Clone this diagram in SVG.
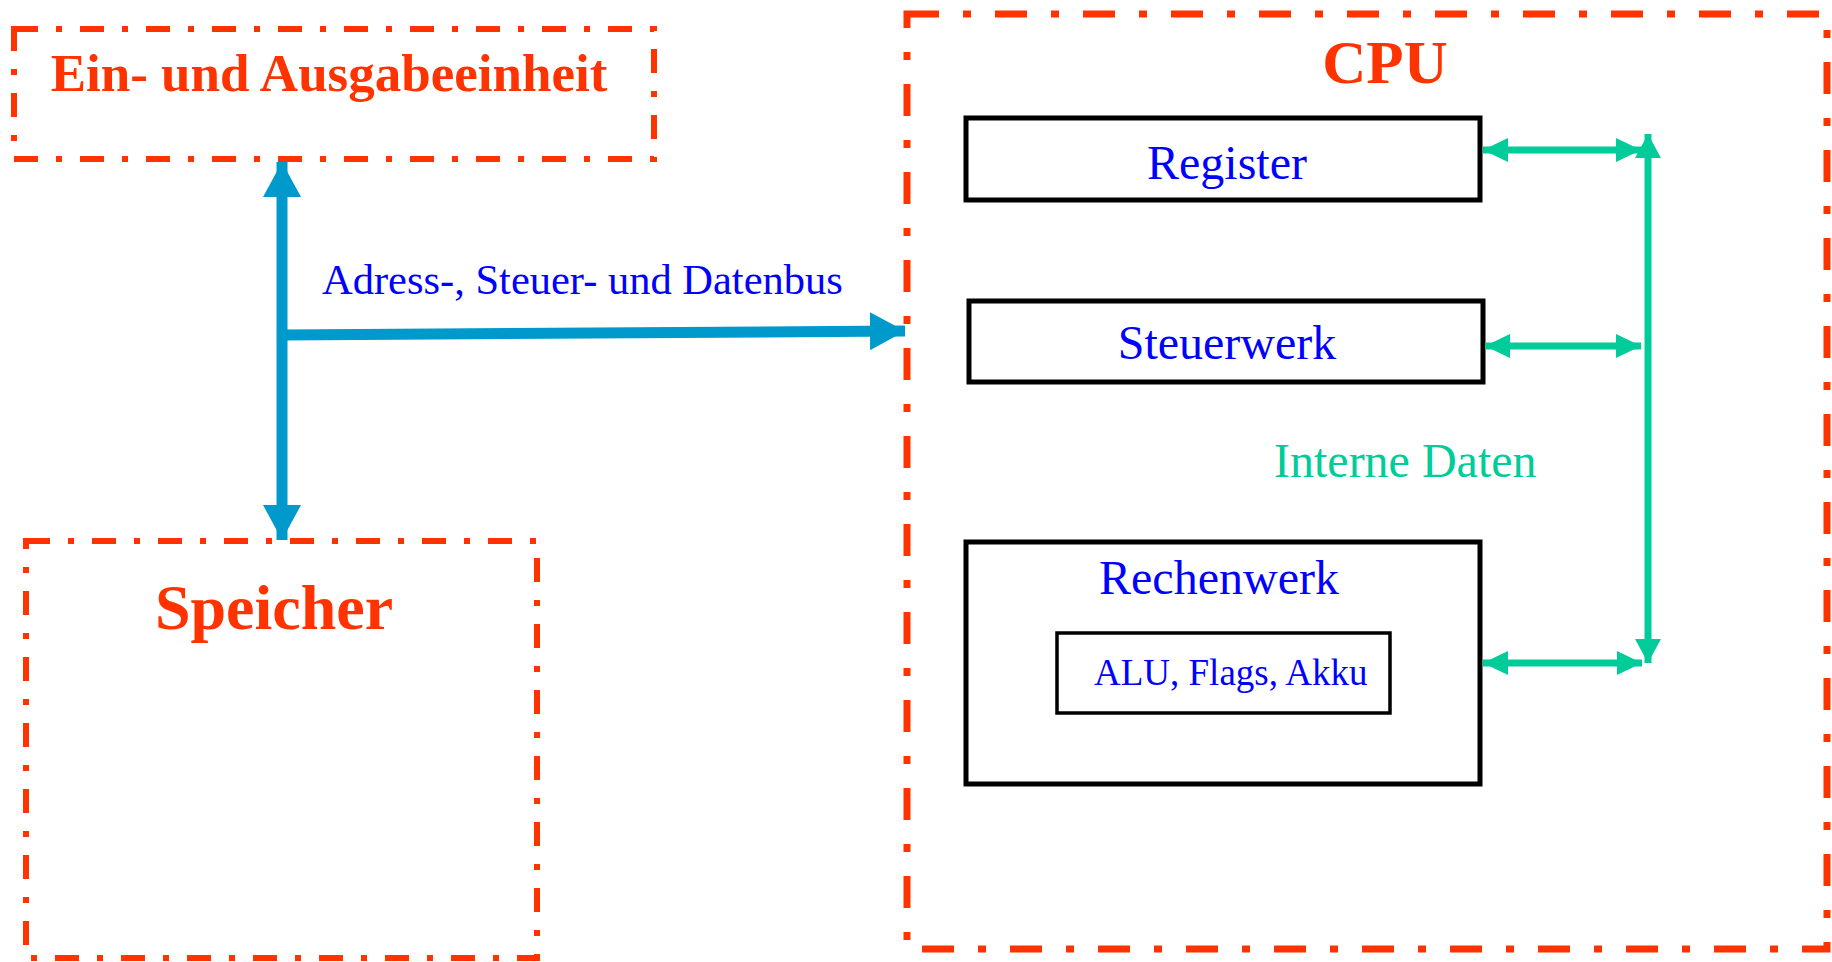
<svg xmlns="http://www.w3.org/2000/svg" width="1832" height="962" viewBox="0 0 1832 962">
<style>
.frame{fill:none;stroke:#FF3300;stroke-width:6;stroke-dasharray:24 18 6 18}
.cpu{fill:none;stroke:#FF3300;stroke-width:7;stroke-dasharray:32 24 8 24}
.box{fill:#fff;stroke:#000;stroke-width:5}
.inner{fill:#fff;stroke:#000;stroke-width:3.5}
.t{font-family:"Liberation Serif","Times New Roman",serif}
.red{fill:#FF3300;font-weight:bold}
.blue{fill:#0000FF}
.green{fill:#00CC99}
.bus{stroke:#0099CC;stroke-width:11;fill:none}
.idata{stroke:#00CC99;stroke-width:7;fill:none}
</style>
<defs>
<marker id="bh" markerUnits="userSpaceOnUse" markerWidth="36" markerHeight="38" refX="35" refY="19" orient="auto-start-reverse" viewBox="0 0 36 38">
<path d="M0,0 L35,19 L0,38 Z" fill="#0099CC"/>
</marker>
<marker id="gh" markerUnits="userSpaceOnUse" markerWidth="26" markerHeight="24" refX="25" refY="12" orient="auto-start-reverse" viewBox="0 0 26 24">
<path d="M0,0 L25,12 L0,24 Z" fill="#00CC99"/>
</marker>
<marker id="gv" markerUnits="userSpaceOnUse" markerWidth="25" markerHeight="26" refX="24" refY="13" orient="auto-start-reverse" viewBox="0 0 25 26">
<path d="M0,0 L24,13 L0,26 Z" fill="#00CC99"/>
</marker>
</defs>
<g id="io">
<rect class="frame" x="14" y="29" width="640" height="130"/>
<text class="t red" x="329" y="91" font-size="53" text-anchor="middle">Ein- und Ausgabeeinheit</text>
</g>
<g id="speicher">
<rect class="frame" x="26" y="541" width="511" height="417"/>
<text class="t red" x="274" y="629" font-size="64" text-anchor="middle">Speicher</text>
</g>
<g id="cpu">
<rect class="cpu" x="907" y="14" width="920" height="935"/>
<text class="t red" x="1385" y="83" font-size="61" text-anchor="middle">CPU</text>
</g>
<g id="register">
<rect class="box" x="966" y="118" width="514" height="82"/>
<text class="t blue" x="1227" y="179" font-size="48" text-anchor="middle">Register</text>
</g>
<g id="steuerwerk">
<rect class="box" x="969" y="301" width="514" height="81"/>
<text class="t blue" x="1227" y="359" font-size="48" text-anchor="middle">Steuerwerk</text>
</g>
<g id="rechenwerk">
<rect class="box" x="966" y="542" width="514" height="242"/>
<text class="t blue" x="1219" y="594" font-size="48" text-anchor="middle">Rechenwerk</text>
</g>
<g id="alu">
<rect class="inner" x="1057" y="633" width="333" height="80"/>
<text class="t blue" x="1094" y="685" font-size="37">ALU, Flags, Akku</text>
</g>
<g id="connectors">
<line class="bus" x1="282" y1="162" x2="282" y2="540" marker-start="url(#bh)" marker-end="url(#bh)"/>
<line class="bus" x1="282" y1="335" x2="905" y2="331" marker-end="url(#bh)"/>
<line class="idata" x1="1483" y1="150" x2="1641" y2="150" marker-start="url(#gh)" marker-end="url(#gh)"/>
<line class="idata" x1="1485" y1="346" x2="1641" y2="346" marker-start="url(#gh)" marker-end="url(#gh)"/>
<line class="idata" x1="1483" y1="663" x2="1642" y2="663" marker-start="url(#gh)" marker-end="url(#gh)"/>
<line class="idata" x1="1648" y1="134" x2="1648" y2="663" marker-start="url(#gv)" marker-end="url(#gv)"/>
</g>
<g id="labels">
<text class="t blue" x="322" y="294" font-size="42.5">Adress-, Steuer- und Datenbus</text>
<text class="t green" x="1274" y="477" font-size="48">Interne Daten</text>
</g>
</svg>
